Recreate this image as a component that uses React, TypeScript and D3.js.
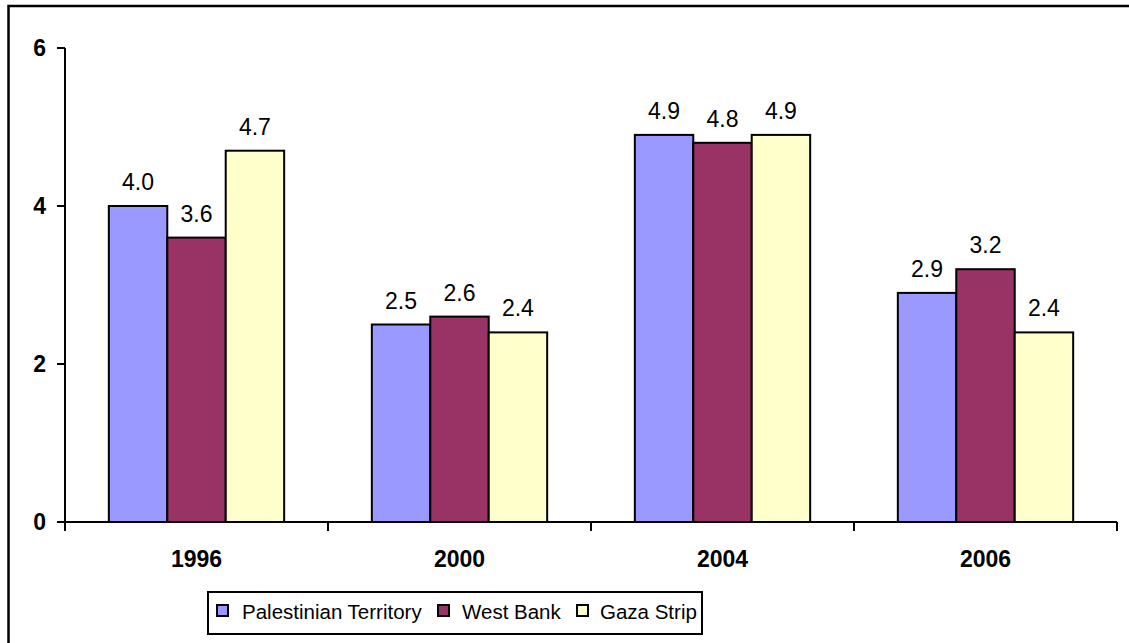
import React from "react";
import * as d3 from "d3";

const years = ["1996", "2000", "2004", "2006"];
const seriesNames = ["Palestinian Territory", "West Bank", "Gaza Strip"];
const palestinianTerritory = [4.0, 2.5, 4.9, 2.9];
const westBank = [3.6, 2.6, 4.8, 3.2];
const gazaStrip = [4.7, 2.4, 4.9, 2.4];
const yTicks = [0, 2, 4, 6];

const seriesValues = [palestinianTerritory, westBank, gazaStrip];
const colors = ["#9999FF", "#993366", "#FFFFCC"];

const W = 1129;
const H = 643;
const plotLeft = 65;
const plotRight = 1117;
const plotTop = 48;
const plotBottom = 522;
const font = "'Liberation Sans', Arial, sans-serif";

export default function App() {
  const y = d3.scaleLinear().domain([0, 6]).range([plotBottom, plotTop]);
  const x0 = d3.scaleBand<string>().domain(years).range([plotLeft, plotRight]);
  const bw = x0.bandwidth();
  const barW = bw / 4.5;
  const gap = bw - barW * 3;
  const x1 = d3
    .scaleBand<string>()
    .domain(seriesNames)
    .range([gap / 2, bw - gap / 2]);

  const legendItems = [
    { sx: 217, tx: 242 },
    { sx: 438, tx: 462 },
    { sx: 577, tx: 600 },
  ];

  return (
    <svg
      width={W}
      height={H}
      style={{ position: "absolute", left: 0, top: 0, background: "#fff" }}
      fontFamily={font}
    >
      {/* chart frame */}
      <rect x={8.5} y={6} width={W + 20} height={H + 20} fill="none" stroke="#000" strokeWidth={2.5} />

      {/* bars */}
      {years.map((yr, i) => (
        <g key={yr} transform={`translate(${x0(yr)},0)`}>
          {seriesNames.map((s, j) => {
            const v = seriesValues[j][i];
            const bx = x1(s)!;
            const by = y(v);
            return (
              <g key={s}>
                <rect
                  x={bx}
                  y={by}
                  width={x1.bandwidth()}
                  height={plotBottom - by}
                  fill={colors[j]}
                  stroke="#000"
                  strokeWidth={2}
                />
                <text
                  x={bx + x1.bandwidth() / 2}
                  y={by - 16}
                  textAnchor="middle"
                  fontSize={23}
                  fill="#000"
                >
                  {v.toFixed(1)}
                </text>
              </g>
            );
          })}
        </g>
      ))}

      {/* y axis */}
      <line x1={plotLeft} x2={plotLeft} y1={plotTop} y2={plotBottom + 8} stroke="#000" strokeWidth={2} />
      {yTicks.map((t) => (
        <g key={t}>
          <line x1={plotLeft - 8} x2={plotLeft} y1={y(t)} y2={y(t)} stroke="#000" strokeWidth={2} />
          <text
            x={46}
            y={y(t)}
            dy="0.36em"
            textAnchor="end"
            fontSize={23}
            fontWeight="bold"
          >
            {t}
          </text>
        </g>
      ))}

      {/* x axis */}
      <line x1={plotLeft} x2={plotRight} y1={plotBottom} y2={plotBottom} stroke="#000" strokeWidth={2} />
      {[...years.map((yr) => x0(yr)!), plotRight].map((xv, k) => (
        <line key={k} x1={xv} x2={xv} y1={plotBottom} y2={plotBottom + 9} stroke="#000" strokeWidth={2} />
      ))}
      {years.map((yr) => (
        <text
          key={yr}
          x={x0(yr)! + bw / 2}
          y={567}
          textAnchor="middle"
          fontSize={23}
          fontWeight="bold"
        >
          {yr}
        </text>
      ))}

      {/* legend */}
      <rect x={208} y={592} width={494} height={42} fill="#fff" stroke="#000" strokeWidth={2} />
      {seriesNames.map((s, j) => (
        <g key={s}>
          <rect
            x={legendItems[j].sx}
            y={605}
            width={11}
            height={11}
            fill={colors[j]}
            stroke="#000"
            strokeWidth={2}
          />
          <text x={legendItems[j].tx} y={619} fontSize={20.5}>
            {s}
          </text>
        </g>
      ))}
    </svg>
  );
}
